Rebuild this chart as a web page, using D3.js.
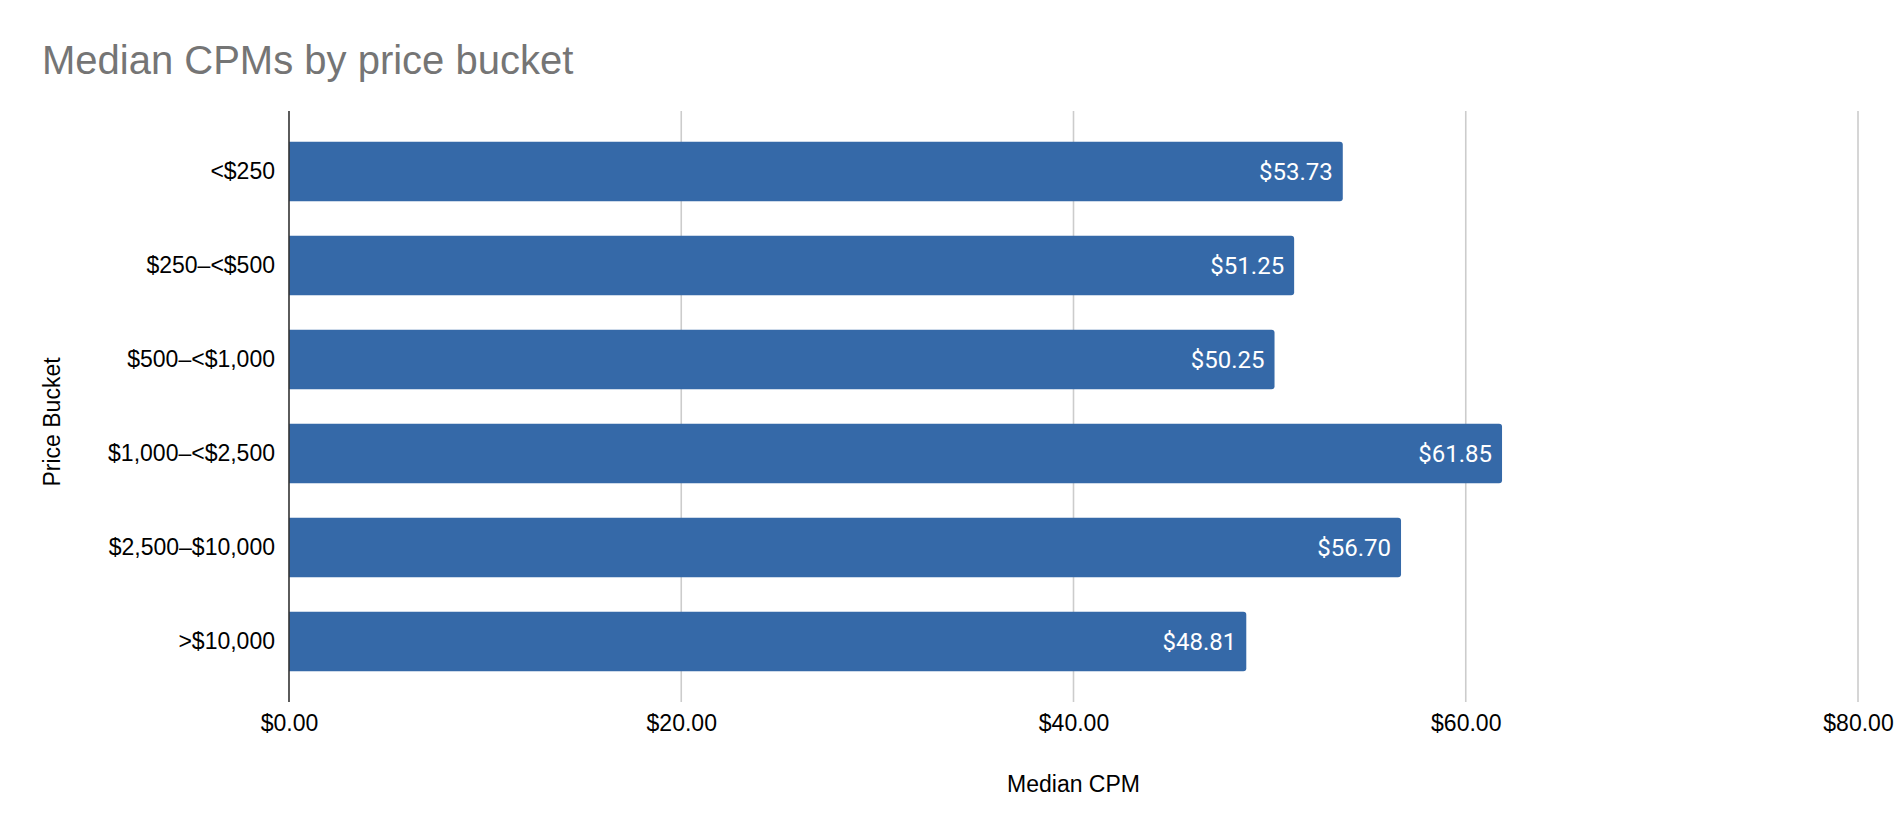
<!DOCTYPE html>
<html>
<head>
<meta charset="utf-8">
<script src="https://cdn.jsdelivr.net/npm/d3@7"></script>
<style>
  body { margin: 0; background: #fff; }
</style>
</head>
<body>
<div id="chart"></div>
<script>
// chart data
var categories = ["<$250", "$250–<$500", "$500–<$1,000", "$1,000–<$2,500", "$2,500–$10,000", ">$10,000"];
var values = [53.73, 51.25, 50.25, 61.85, 56.70, 48.81];
var tickValues = [0, 20, 40, 60, 80];

var width = 1900, height = 840;
var plotLeft = 289, plotRight = 1858, plotTop = 111, plotBottom = 702;
var labelFont = "'Liberation Sans', Arial, sans-serif";

var svg = d3.select("#chart").append("svg")
    .attr("width", width)
    .attr("height", height)
    .style("font-family", labelFont);

var x = d3.scaleLinear().domain([0, 80]).range([plotLeft, plotRight]);
var y = d3.scaleBand().domain(categories).range([plotTop, plotBottom])
    .paddingInner(0.368).paddingOuter(0.327);

var fmt = function(v) { return "$" + d3.format(",.2f")(v); };

// 标题
svg.append("text")
    .attr("x", 42)
    .attr("y", 74)
    .style("font-size", "40px")
    .attr("fill", "#757575")
    .text("Median CPMs by price bucket");

// gridlines
svg.append("g")
    .selectAll("line")
    .data(tickValues.slice(1))
    .enter()
    .append("line")
    .attr("x1", d => x(d)).attr("x2", d => x(d))
    .attr("y1", plotTop).attr("y2", plotBottom)
    .attr("stroke", "#cccccc")
    .attr("stroke-width", 1.6);

// x axis (labels only)
var xAxis = svg.append("g")
    .attr("transform", "translate(0," + plotBottom + ")")
    .call(d3.axisBottom(x).tickValues(tickValues).tickFormat(fmt).tickSize(0).tickPadding(13));
xAxis.select(".domain").remove();
xAxis.selectAll("text")
    .style("font-size", "23px")
    .style("font-family", labelFont)
    .attr("fill", "#000");

// y axis (labels only)
var yAxis = svg.append("g")
    .attr("transform", "translate(" + plotLeft + ",0)")
    .call(d3.axisLeft(y).tickSize(0).tickPadding(14));
yAxis.select(".domain").remove();
yAxis.selectAll("text")
    .style("font-size", "23px")
    .style("font-family", labelFont)
    .attr("fill", "#000");

// bars, rounded on the right end only
function barPath(x0, x1, y0, h, r) {
    return "M" + x0 + "," + y0 +
        "H" + (x1 - r) +
        "Q" + x1 + "," + y0 + " " + x1 + "," + (y0 + r) +
        "V" + (y0 + h - r) +
        "Q" + x1 + "," + (y0 + h) + " " + (x1 - r) + "," + (y0 + h) +
        "H" + x0 + "Z";
}

svg.append("g")
    .selectAll("path")
    .data(values)
    .enter()
    .append("path")
    .attr("d", (d, i) => barPath(x(0), x(d), y(categories[i]), y.bandwidth(), 3))
    .attr("fill", "#3569a8");

// value labels
svg.append("g")
    .selectAll("text")
    .data(values)
    .enter()
    .append("text")
    .attr("x", d => x(d) - 10)
    .attr("y", (d, i) => y(categories[i]) + y.bandwidth() / 2)
    .attr("dy", "0.36em")
    .attr("text-anchor", "end")
    .style("font-family", "Roboto, sans-serif")
    .style("font-size", "24px")
    .attr("fill", "#fff")
    .text(fmt);

// baseline
svg.append("line")
    .attr("x1", x(0)).attr("x2", x(0))
    .attr("y1", plotTop).attr("y2", plotBottom)
    .attr("stroke", "#333")
    .attr("stroke-width", 1.6);

// axis titles
svg.append("text")
    .attr("x", (plotLeft + plotRight) / 2)
    .attr("y", 792)
    .attr("text-anchor", "middle")
    .style("font-size", "23px")
    .attr("fill", "#000")
    .text("Median CPM");

svg.append("text")
    .attr("transform", "translate(60,422) rotate(-90)")
    .attr("text-anchor", "middle")
    .style("font-size", "23px")
    .attr("fill", "#000")
    .text("Price Bucket");
</script>
</body>
</html>
